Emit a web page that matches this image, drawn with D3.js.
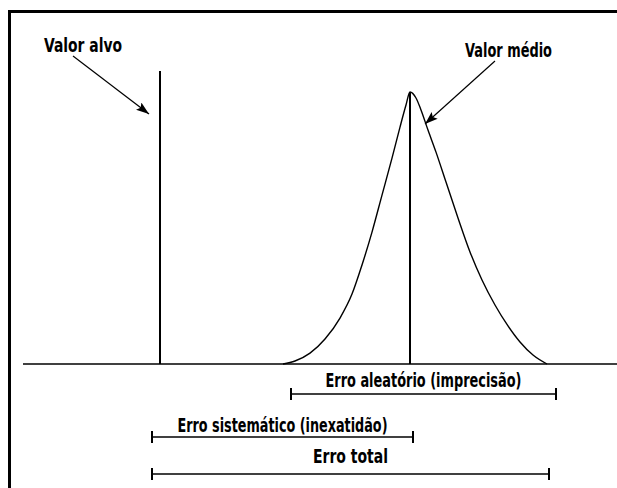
<!DOCTYPE html>
<html>
<head>
<meta charset="utf-8">
<script src="https://cdn.jsdelivr.net/npm/d3@7"></script>
<style>
  body { margin: 0; background: #fff; }
  text { font-family: "Liberation Sans Narrow", "DejaVu Sans Condensed", "DejaVu Sans", sans-serif; font-stretch: condensed; font-weight: bold; fill: #000; }
</style>
</head>
<body>
<svg id="chart" width="617" height="488"></svg>
<script>
// x units: target value = 0, mean value = 100
var targetValue = 0
var meanValue = 100
var targetHeight = 1.077

// bell curve (x units, relative height)
var curveX = [49.2, 54, 60, 66, 72, 76.8, 80.8, 84.8, 88.8, 92.8, 96, 98.4, 100,
              102.4, 104.4, 107.2, 110.4, 114.4, 119.2, 124, 128.8, 134, 139.2, 144, 149.2, 154.8]
var curveY = [0, 0.011, 0.04, 0.092, 0.169, 0.257, 0.364, 0.485, 0.621, 0.757, 0.871, 0.952, 1,
              0.978, 0.934, 0.86, 0.779, 0.669, 0.537, 0.412, 0.309, 0.217, 0.14, 0.081, 0.033, 0]

// error bars: label, start, end
var barLabels = ["Erro aleatório (imprecisão)", "Erro sistemático (inexatidão)", "Erro total"]
var barStart = [52.4, -3.2, -3.2]
var barEnd = [158.4, 101.2, 155.6]

var dimensions = {
    width: 617,
    height: 488,
    baseline: 364,
    peak: 92
}

var svg = d3.select("#chart")

var xScale = d3.scaleLinear()
               .domain([0, 100])
               .range([160, 410])

var yScale = d3.scaleLinear()
               .domain([0, 1])
               .range([dimensions.baseline, dimensions.peak])

// frame
svg.append("line")
   .attr("x1", 8).attr("y1", 11.5)
   .attr("x2", dimensions.width).attr("y2", 11.5)
   .attr("stroke", "black").attr("stroke-width", 3)
svg.append("line")
   .attr("x1", 9.5).attr("y1", 10)
   .attr("x2", 9.5).attr("y2", dimensions.height)
   .attr("stroke", "black").attr("stroke-width", 3)

// arrow marker
svg.append("defs").append("marker")
   .attr("id", "arrow")
   .attr("viewBox", "0 0 13 9")
   .attr("refX", 13).attr("refY", 4.5)
   .attr("markerWidth", 13).attr("markerHeight", 9)
   .attr("markerUnits", "userSpaceOnUse")
   .attr("orient", "auto")
   .append("path")
   .attr("d", "M0,0 L13,4.5 L0,9 L2.5,4.5 Z")
   .attr("fill", "black")

// baseline
svg.append("line")
   .attr("x1", 23).attr("x2", dimensions.width)
   .attr("y1", yScale(0)).attr("y2", yScale(0))
   .attr("stroke", "black").attr("stroke-width", 1.5)

// bell curve
var curveData = curveX.map((x, i) => [x, curveY[i]])
var lineGen = d3.line()
                .x(d => xScale(d[0]))
                .y(d => yScale(d[1]))
                .curve(d3.curveMonotoneX)
svg.append("path")
   .datum(curveData)
   .attr("d", lineGen)
   .attr("fill", "none")
   .attr("stroke", "black")
   .attr("stroke-width", 1.4)

// target and mean lines
svg.append("line")
   .attr("x1", xScale(targetValue)).attr("x2", xScale(targetValue))
   .attr("y1", yScale(0)).attr("y2", yScale(targetHeight))
   .attr("stroke", "black").attr("stroke-width", 2)
svg.append("line")
   .attr("x1", xScale(meanValue)).attr("x2", xScale(meanValue))
   .attr("y1", yScale(0)).attr("y2", yScale(1))
   .attr("stroke", "black").attr("stroke-width", 2)

// annotations
svg.append("text")
   .attr("x", xScale(-46.4)).attr("y", 52)
   .attr("textLength", 78).attr("lengthAdjust", "spacingAndGlyphs")
   .style("font-size", "19px")
   .text("Valor alvo")
svg.append("line")
   .attr("x1", xScale(-34.8)).attr("y1", 56)
   .attr("x2", xScale(-4.4)).attr("y2", 114)
   .attr("stroke", "black").attr("stroke-width", 1.2)
   .attr("marker-end", "url(#arrow)")

svg.append("text")
   .attr("x", xScale(122)).attr("y", 57)
   .attr("textLength", 87).attr("lengthAdjust", "spacingAndGlyphs")
   .style("font-size", "19px")
   .text("Valor médio")
svg.append("line")
   .attr("x1", xScale(134)).attr("y1", 61)
   .attr("x2", xScale(106)).attr("y2", 124)
   .attr("stroke", "black").attr("stroke-width", 1.2)
   .attr("marker-end", "url(#arrow)")

// error bars
var barY = [394, 437, 474]
var labelY = [387, 432, 463]
var labelWidth = [196, 210, 75]

var bars = svg.append("g")
              .selectAll("g")
              .data(barLabels)
              .enter()
              .append("g")

bars.append("line")
    .attr("x1", (d, i) => xScale(barStart[i]))
    .attr("x2", (d, i) => xScale(barEnd[i]))
    .attr("y1", (d, i) => barY[i])
    .attr("y2", (d, i) => barY[i])
    .attr("stroke", "black").attr("stroke-width", 1.5)
bars.append("line")
    .attr("x1", (d, i) => xScale(barStart[i]))
    .attr("x2", (d, i) => xScale(barStart[i]))
    .attr("y1", (d, i) => barY[i] - 6)
    .attr("y2", (d, i) => barY[i] + 6)
    .attr("stroke", "black").attr("stroke-width", 2)
bars.append("line")
    .attr("x1", (d, i) => xScale(barEnd[i]))
    .attr("x2", (d, i) => xScale(barEnd[i]))
    .attr("y1", (d, i) => barY[i] - 6)
    .attr("y2", (d, i) => barY[i] + 6)
    .attr("stroke", "black").attr("stroke-width", 2)
bars.append("text")
    .attr("x", (d, i) => (xScale(barStart[i]) + xScale(barEnd[i])) / 2)
    .attr("y", (d, i) => labelY[i])
    .attr("text-anchor", "middle")
    .attr("textLength", (d, i) => labelWidth[i])
    .attr("lengthAdjust", "spacingAndGlyphs")
    .style("font-size", "19px")
    .text(d => d)
</script>
</body>
</html>
